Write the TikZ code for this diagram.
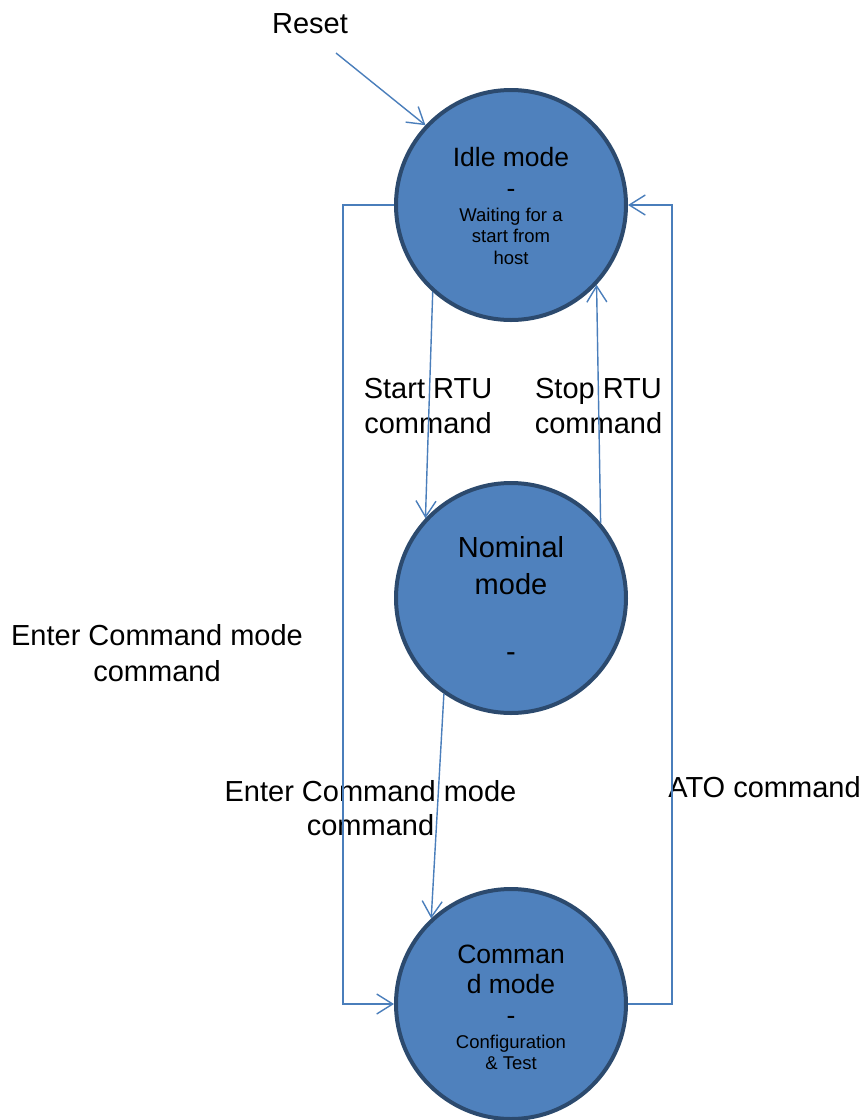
\documentclass[tikz,border=0pt]{standalone}
\usepackage{fontspec}
\setmainfont{Liberation Sans}
\usetikzlibrary{arrows.meta}
\definecolor{fillblue}{HTML}{4F81BD}
\definecolor{edgeblue}{HTML}{2C4A6E}
\definecolor{lineblue}{HTML}{4A7EBB}
\begin{document}
\begin{tikzpicture}[x=1pt,y=-1pt,
  state/.style={circle, draw=edgeblue, fill=fillblue, line width=4pt, minimum size=230pt, inner sep=0pt},
  conn/.style={draw=lineblue, line width=1.4pt, -{Straight Barb[length=16pt,width=20pt]}},
  lbl/.style={font=\fontsize{29}{35}\selectfont, anchor=base, inner sep=0pt},
  title/.style={font=\fontsize{26.5}{32}\selectfont, anchor=base, inner sep=0pt},
  bigtitle/.style={font=\fontsize{29}{35}\selectfont, anchor=base, inner sep=0pt},
  small/.style={font=\fontsize{18.5}{22}\selectfont, anchor=base, inner sep=0pt}]
\useasboundingbox (0,0) rectangle (866,1120);
\fill[white] (0,0) rectangle (866,1120);

% states
\node[state] (idle) at (511,205) {};
\node[state] (nom) at (511,598) {};
\node[state] (cmd) at (511,1004) {};

% state texts
\node[title] (it1) at (511,166) {Idle mode};
\node[title] (it2) at (511,197) {-};
\node[small] (it3) at (511,221) {Waiting for a};
\node[small] (it4) at (511,242) {start from};
\node[small] (it5) at (511,264) {host};

\node[bigtitle] (nt1) at (511,557) {Nominal};
\node[bigtitle] (nt2) at (511,594) {mode};
\node[bigtitle] (nt3) at (511,661) {-};

\node[title] (ct1) at (511,963) {Comman};
\node[title] (ct2) at (511,993) {d mode};
\node[title] (ct3) at (511,1024) {-};
\node[small] (ct4) at (511,1048) {Configuration};
\node[small] (ct5) at (511,1069) {\& Test};

% labels
\node[lbl] (reset) at (310,33) {Reset};
\node[lbl] (sa1) at (428,398) {Start RTU};
\node[lbl] (sa2) at (428,433) {command};
\node[lbl] (so1) at (598.5,398) {Stop RTU};
\node[lbl] (so2) at (598.5,433) {command};
\node[lbl] (el1) at (157,645) {Enter Command mode};
\node[lbl] (el2) at (157,681) {command};
\node[lbl] (em1) at (370.5,801) {Enter Command mode};
\node[lbl] (em2) at (370.5,835) {command};
\node[lbl] (ato) at (764.5,797) {ATO command};

% connectors
\coordinate (rs) at (336,53);
\coordinate (lx) at (343,0);
\coordinate (rx) at (672,0);
\draw[conn] (rs) -- (idle.137.7);
\draw[conn] (idle.-132) -- (nom.137);
\draw[conn] (nom.40.6) -- (idle.-43.6);
\draw[conn] (nom.-125.6) -- (cmd.133);
\draw[conn] (idle.west) -- (idle.west -| lx) -- (cmd.west -| lx) -- (cmd.west);
\draw[conn] (cmd.east) -- (cmd.east -| rx) -- (idle.east -| rx) -- (idle.east);
\end{tikzpicture}
\end{document}
